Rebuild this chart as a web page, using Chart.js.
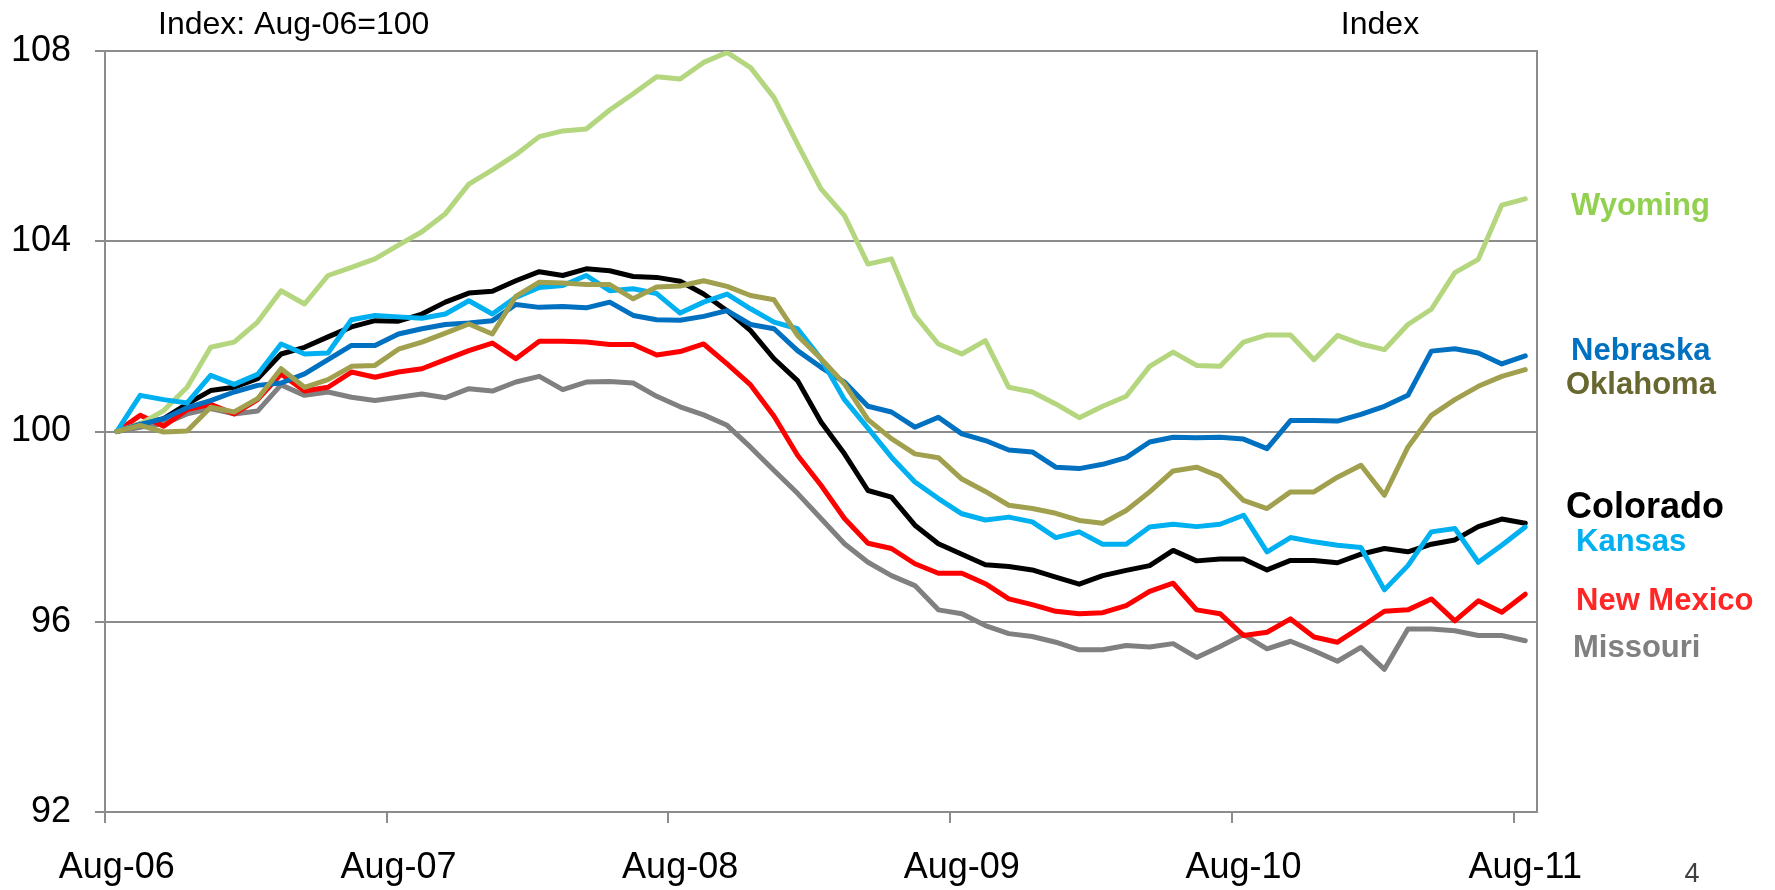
<!DOCTYPE html>
<html>
<head>
<meta charset="utf-8">
<script src="https://cdn.jsdelivr.net/npm/chart.js@4"></script>
<style>
  html, body { margin: 0; padding: 0; background: #fff; }
  #wrap { position: relative; width: 1775px; height: 890px; }
</style>
</head>
<body>
<div id="wrap"><canvas id="chart"></canvas></div>
<script>
// monthly index, Aug-06 = 100
const monthNames = ['Jan', 'Feb', 'Mar', 'Apr', 'May', 'Jun', 'Jul', 'Aug', 'Sep', 'Oct', 'Nov', 'Dec'];
const months = [];
for (let i = 0; i < 61; i++) {
  const m = (7 + i) % 12;
  const yr = 6 + Math.floor((7 + i) / 12);
  months.push(monthNames[m] + '-' + String(yr).padStart(2, '0'));
}
const yTicks = [92, 96, 100, 104, 108];

const wyoming = [100, 100.16, 100.44, 100.93, 101.77, 101.88, 102.3, 102.96, 102.68, 103.28, 103.45, 103.63, 103.92,
  104.2, 104.58, 105.2, 105.5, 105.82, 106.2, 106.32, 106.36, 106.76, 107.1, 107.46, 107.41,
  107.76, 107.97, 107.65, 107.02, 106.04, 105.1, 104.54, 103.52, 103.63, 102.44, 101.84, 101.63,
  101.91, 100.93, 100.83, 100.58, 100.29, 100.53, 100.74, 101.37, 101.67, 101.39, 101.37, 101.88,
  102.03, 102.03, 101.51, 102.02, 101.84, 101.72, 102.25, 102.57, 103.34, 103.62, 104.76, 104.89];
const nebraska = [100, 100.15, 100.27, 100.5, 100.65, 100.83, 100.97, 101.02, 101.21, 101.51, 101.81, 101.81, 102.05,
  102.16, 102.25, 102.28, 102.33, 102.67, 102.61, 102.63, 102.6, 102.72, 102.44, 102.35, 102.34,
  102.42, 102.54, 102.25, 102.16, 101.7, 101.35, 101.04, 100.53, 100.41, 100.09, 100.3, 99.95,
  99.81, 99.61, 99.57, 99.25, 99.22, 99.31, 99.45, 99.78, 99.88, 99.87, 99.88, 99.84,
  99.64, 100.23, 100.23, 100.22, 100.36, 100.53, 100.76, 101.69, 101.74, 101.65, 101.42, 101.59];
const oklahoma = [100, 100.13, 99.99, 100.01, 100.51, 100.41, 100.69, 101.32, 100.93, 101.09, 101.37, 101.39, 101.73,
  101.88, 102.07, 102.26, 102.05, 102.84, 103.14, 103.12, 103.09, 103.09, 102.79, 103.04, 103.06,
  103.17, 103.05, 102.86, 102.77, 102.02, 101.53, 101.0, 100.25, 99.85, 99.53, 99.45, 99.0,
  98.74, 98.45, 98.38, 98.28, 98.13, 98.07, 98.34, 98.73, 99.17, 99.25, 99.05, 98.55,
  98.38, 98.73, 98.73, 99.04, 99.29, 98.66, 99.67, 100.34, 100.67, 100.95, 101.16, 101.3];
const colorado = [100, 100.16, 100.27, 100.58, 100.86, 100.93, 101.11, 101.63, 101.77, 101.99, 102.2, 102.33, 102.32,
  102.47, 102.72, 102.91, 102.95, 103.17, 103.36, 103.28, 103.42, 103.38, 103.26, 103.24, 103.16,
  102.89, 102.54, 102.12, 101.53, 101.07, 100.2, 99.53, 98.76, 98.62, 98.03, 97.64, 97.42,
  97.2, 97.16, 97.09, 96.94, 96.79, 96.97, 97.08, 97.18, 97.5, 97.28, 97.32, 97.32,
  97.09, 97.29, 97.29, 97.24, 97.42, 97.54, 97.47, 97.63, 97.72, 98.0, 98.16, 98.07];
const kansas = [100, 100.76, 100.67, 100.6, 101.18, 100.99, 101.2, 101.84, 101.63, 101.65, 102.35, 102.44, 102.41,
  102.38, 102.47, 102.75, 102.47, 102.82, 103.03, 103.07, 103.28, 102.96, 103.0, 102.9, 102.49,
  102.72, 102.89, 102.58, 102.3, 102.16, 101.53, 100.67, 100.07, 99.46, 98.94, 98.59, 98.27,
  98.14, 98.2, 98.1, 97.77, 97.89, 97.63, 97.63, 97.99, 98.05, 98.0, 98.05, 98.24,
  97.47, 97.77, 97.68, 97.61, 97.56, 96.67, 97.18, 97.89, 97.96, 97.25, 97.61, 97.99];
const newMexico = [100, 100.34, 100.11, 100.46, 100.57, 100.37, 100.67, 101.21, 100.85, 100.93, 101.25, 101.14, 101.25,
  101.32, 101.51, 101.7, 101.86, 101.53, 101.9, 101.9, 101.88, 101.83, 101.83, 101.61, 101.68,
  101.84, 101.42, 100.98, 100.32, 99.5, 98.87, 98.17, 97.65, 97.54, 97.22, 97.02, 97.02,
  96.8, 96.48, 96.36, 96.22, 96.17, 96.19, 96.34, 96.64, 96.81, 96.25, 96.17, 95.71,
  95.78, 96.06, 95.68, 95.57, 95.89, 96.22, 96.25, 96.48, 96.02, 96.44, 96.2, 96.58];
const missouri = [100, 100.09, 100.16, 100.37, 100.48, 100.37, 100.43, 100.98, 100.76, 100.83, 100.72, 100.65, 100.72,
  100.79, 100.71, 100.9, 100.85, 101.04, 101.16, 100.88, 101.04, 101.05, 101.02, 100.74, 100.52,
  100.35, 100.13, 99.67, 99.18, 98.7, 98.17, 97.64, 97.25, 96.97, 96.76, 96.25, 96.17,
  95.92, 95.75, 95.69, 95.57, 95.41, 95.41, 95.5, 95.47, 95.54, 95.25, 95.48, 95.73,
  95.43, 95.59, 95.39, 95.17, 95.46, 95.0, 95.85, 95.85, 95.81, 95.71, 95.71, 95.6];

const FONT = '"Liberation Sans", Arial, sans-serif';
const gridColor = '#8c8c8c';

// names placed by hand at the right of the plot, as in the original slide
const seriesLabels = [
  { text: 'Wyoming', color: '#92D050', x: 1571, y: 206, size: 31 },
  { text: 'Nebraska', color: '#0070C0', x: 1571, y: 351, size: 31 },
  { text: 'Oklahoma', color: '#67672F', x: 1566, y: 385, size: 31 },
  { text: 'Colorado', color: '#000000', x: 1566, y: 508, size: 36 },
  { text: 'Kansas', color: '#00B0F0', x: 1576, y: 542, size: 31 },
  { text: 'New Mexico', color: '#FF2626', x: 1576, y: 601, size: 31 },
  { text: 'Missouri', color: '#808080', x: 1573, y: 648, size: 31 },
];

const textPlugin = {
  id: 'slideText',
  afterDraw(chart) {
    const ctx = chart.ctx;
    ctx.save();
    ctx.textBaseline = 'middle';
    ctx.fillStyle = '#000';
    ctx.font = '32px ' + FONT;
    ctx.textAlign = 'left';
    ctx.fillText('Index: Aug-06=100', 158, 25);
    ctx.textAlign = 'center';
    ctx.fillText('Index', 1380, 25);
    ctx.fillStyle = '#404040';
    ctx.font = '27px ' + FONT;
    ctx.fillText('4', 1692, 875);
    ctx.textAlign = 'left';
    seriesLabels.forEach(l => {
      ctx.fillStyle = l.color;
      ctx.font = 'bold ' + l.size + 'px ' + FONT;
      ctx.fillText(l.text, l.x, l.y);
    });
    ctx.restore();
  }
};

function line(label, data, color) {
  return {
    label, data,
    borderColor: color,
    backgroundColor: color,
    borderWidth: 5,
    pointRadius: 0,
    tension: 0,
    fill: false,
    borderJoinStyle: 'round',
    borderCapStyle: 'round',
  };
}

new Chart(document.getElementById('chart').getContext('2d'), {
  type: 'line',
  data: {
    labels: months,
    // first dataset is drawn on top
    datasets: [
      line('Oklahoma', oklahoma, '#A0A04E'),
      line('Kansas', kansas, '#00B0F0'),
      line('Nebraska', nebraska, '#0070C0'),
      line('Wyoming', wyoming, '#B4D67E'),
      line('New Mexico', newMexico, '#FF0000'),
      line('Colorado', colorado, '#000000'),
      line('Missouri', missouri, '#808080'),
    ],
  },
  options: {
    responsive: true,
    maintainAspectRatio: false,
    animation: false,
    layout: { padding: { top: 51, left: 0, right: 0, bottom: 0 } },
    plugins: {
      legend: { display: false },
      tooltip: { enabled: false },
    },
    scales: {
      x: {
        offset: true,
        grid: {
          offset: true,
          drawOnChartArea: false,
          tickLength: 11,
          lineWidth: 2,
          color: c => (c.index !== undefined && c.index % 12 === 0) ? gridColor : 'rgba(0,0,0,0)',
        },
        border: { display: true, color: gridColor, width: 2 },
        ticks: {
          autoSkip: false,
          maxRotation: 0,
          minRotation: 0,
          padding: 23,
          color: '#000',
          font: { family: FONT, size: 36 },
          callback: (v, i) => (i % 12 === 0 ? months[i] : ''),
        },
        afterFit: s => { s.height = 78; },
      },
      y: {
        min: yTicks[0],
        max: yTicks[yTicks.length - 1],
        afterBuildTicks: s => { s.ticks = yTicks.map(v => ({ value: v })); },
        ticks: { padding: 24, color: '#000', font: { family: FONT, size: 36 } },
        grid: { color: gridColor, lineWidth: 2, tickLength: 10 },
        border: { color: gridColor, width: 2 },
        afterFit: s => { s.width = 105; },
      },
      y2: {
        position: 'right',
        min: yTicks[0],
        max: yTicks[yTicks.length - 1],
        ticks: { display: false },
        grid: { display: false },
        border: { display: true, color: gridColor, width: 2 },
        afterFit: s => { s.width = 238; },
      },
    },
  },
  plugins: [textPlugin],
});
</script>
</body>
</html>
